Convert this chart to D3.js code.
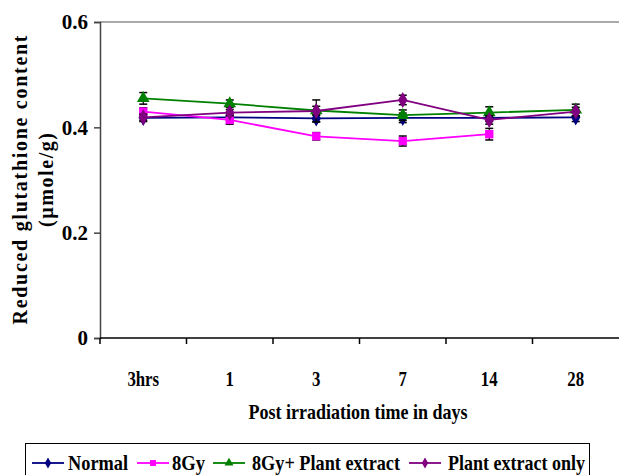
<!DOCTYPE html>
<html>
<head>
<meta charset="utf-8">
<script src="https://cdn.jsdelivr.net/npm/d3@7"></script>
<style>
  body { margin: 0; background: #fff; }
  svg { display: block; }
  text { font-family: "Liberation Serif", "Times New Roman", serif; font-weight: bold; fill: #000; }
</style>
</head>
<body>
<script>
const categories = ['3hrs', '1', '3', '7', '14', '28']
const yTicks = [0, 0.2, 0.4, 0.6]

const normal = [0.418, 0.419, 0.417, 0.418, 0.418, 0.419]
const normalErr = [0.007, 0.006, 0.006, 0.009, 0.007, 0.008]
const gy8 = [0.430, 0.414, 0.383, 0.374, 0.387, null]
const gy8Err = [0.007, 0.008, 0.007, 0.0095, 0.011, null]
const gy8Plant = [0.455, 0.445, 0.432, 0.423, 0.428, 0.433]
const gy8PlantErr = [0.011, 0.007, 0.008, 0.01, 0.011, 0.011]
const plantOnly = [0.419, 0.428, 0.431, 0.452, 0.414, 0.430]
const plantOnlyErr = [0.006, 0.006, 0.021, 0.009, 0.008, 0.008]

const series = [
  {name: 'Normal', values: normal, err: normalErr, color: '#000080', shape: 'diamond'},
  {name: '8Gy', values: gy8, err: gy8Err, color: '#FF00FF', shape: 'square'},
  {name: '8Gy+ Plant extract', values: gy8Plant, err: gy8PlantErr, color: '#008000', shape: 'triangle'},
  {name: 'Plant extract only', values: plantOnly, err: plantOnlyErr, color: '#800080', shape: 'diamond'}
]

const width = 619, height = 475
const margin = {top: 22, right: 0, bottom: 137, left: 100}

const svg = d3.select('body').append('svg')
  .attr('width', width)
  .attr('height', height)

const x = d3.scaleBand()
  .domain(categories)
  .range([margin.left, width - margin.right])

const y = d3.scaleLinear()
  .domain([0, 0.6])
  .range([height - margin.bottom, margin.top])

// plot frame top
svg.append('line')
  .attr('x1', margin.left).attr('x2', width)
  .attr('y1', y(0.6)).attr('y2', y(0.6))
  .attr('stroke', '#aaa').attr('stroke-width', 2)

// y axis
const yAxis = svg.append('g')
  .attr('transform', `translate(${margin.left},0)`)
  .call(d3.axisLeft(y).tickValues(yTicks).tickSize(6).tickPadding(6)
    .tickFormat(d => d === 0 ? '0' : d3.format('.1f')(d)))
yAxis.select('.domain').attr('stroke', '#444').attr('stroke-width', 1.5)
yAxis.selectAll('.tick line').attr('stroke', '#444').attr('stroke-width', 1.5)
yAxis.selectAll('text').style('font-size', '21px').attr('fill', '#000')

// x axis
const xAxis = svg.append('g')
  .attr('transform', `translate(0,${y(0)})`)
xAxis.append('line')
  .attr('x1', margin.left).attr('x2', width)
  .attr('stroke', '#000').attr('stroke-width', 1.5)
xAxis.selectAll('.tk')
  .data(categories)
  .enter().append('line')
  .attr('class', 'tk')
  .attr('x1', d => x(d)).attr('x2', d => x(d))
  .attr('y1', 0).attr('y2', 6)
  .attr('stroke', '#000').attr('stroke-width', 1.5)
xAxis.selectAll('.lbl')
  .data(categories)
  .enter().append('text')
  .attr('class', 'lbl')
  .attr('x', d => x(d) + x.bandwidth() / 2)
  .attr('y', 48)
  .attr('text-anchor', 'middle')
  .style('font-size', '21px')
  .attr('transform', d => {
    const cx = x(d) + x.bandwidth() / 2
    return `translate(${cx},0) scale(0.8,1) translate(${-cx},0)`
  })
  .text(d => d)

// axis titles
svg.append('text')
  .attr('x', 358).attr('y', 419)
  .attr('text-anchor', 'middle')
  .style('font-size', '21px')
  .attr('textLength', 219).attr('lengthAdjust', 'spacingAndGlyphs')
  .text('Post irradiation time in days')

const yTitle = svg.append('g')
  .attr('transform', `translate(0,${(y(0) + y(0.6)) / 2}) rotate(-90)`)
yTitle.append('text')
  .attr('x', 0).attr('y', 27)
  .attr('text-anchor', 'middle')
  .style('font-size', '20px')
  .attr('textLength', 289).attr('lengthAdjust', 'spacing')
  .text('Reduced glutathione content')
yTitle.append('text')
  .attr('x', 0).attr('y', 53)
  .attr('text-anchor', 'middle')
  .style('font-size', '20px')
  .attr('textLength', 94).attr('lengthAdjust', 'spacing')
  .text('(µmole/g)')

const cx = (d, i) => x(categories[i]) + x.bandwidth() / 2

const symbolFor = shape => {
  if (shape === 'square') return d3.symbol().type(d3.symbolSquare).size(70)
  if (shape === 'triangle') return d3.symbol().type(d3.symbolTriangle).size(70)
  return d3.symbol().type(d3.symbolDiamond).size(75)
}

series.forEach(s => {
  const pts = s.values.map((v, i) => ({v, e: s.err[i], i})).filter(p => p.v !== null)
  const line = d3.line()
    .x(p => cx(null, p.i))
    .y(p => y(p.v))

  const g = svg.append('g')

  // error bars
  pts.forEach(p => {
    const px = cx(null, p.i)
    g.append('line')
      .attr('x1', px).attr('x2', px)
      .attr('y1', y(p.v - p.e)).attr('y2', y(p.v + p.e))
      .attr('stroke', '#000').attr('stroke-width', 1.2)
    ;[p.v - p.e, p.v + p.e].forEach(ev => {
      g.append('line')
        .attr('x1', px - 4).attr('x2', px + 4)
        .attr('y1', y(ev)).attr('y2', y(ev))
        .attr('stroke', '#000').attr('stroke-width', 1.5)
    })
  })

  g.append('path')
    .datum(pts)
    .attr('d', line)
    .attr('fill', 'none')
    .attr('stroke', s.color)
    .attr('stroke-width', 1.8)

  g.selectAll('.mk')
    .data(pts)
    .enter().append('path')
    .attr('class', 'mk')
    .attr('d', symbolFor(s.shape))
    .attr('transform', p => `translate(${cx(null, p.i)},${y(p.v)})`)
    .attr('fill', s.color)
})

// legend
const legend = svg.append('g')
legend.append('rect')
  .attr('x', 25.5).attr('y', 443.5)
  .attr('width', 564).attr('height', 40)
  .attr('fill', 'none').attr('stroke', '#000').attr('stroke-width', 1)

const legendItems = [
  {lx: 32, tx: 68, tw: 60},
  {lx: 137, tx: 172, tw: 33},
  {lx: 213, tx: 252, tw: 148},
  {lx: 409, tx: 448, tw: 137}
]

series.forEach((s, i) => {
  const it = legendItems[i]
  const ly = 463
  legend.append('line')
    .attr('x1', it.lx).attr('x2', it.lx + 32)
    .attr('y1', ly).attr('y2', ly)
    .attr('stroke', s.color).attr('stroke-width', 1.8)
  legend.append('path')
    .attr('d', d3.symbol().type(s.shape === 'square' ? d3.symbolSquare
      : s.shape === 'triangle' ? d3.symbolTriangle : d3.symbolDiamond).size(35))
    .attr('transform', `translate(${it.lx + 16},${ly})`)
    .attr('fill', s.color)
  legend.append('text')
    .attr('x', it.tx).attr('y', 470)
    .style('font-size', '22px')
    .attr('textLength', it.tw).attr('lengthAdjust', 'spacingAndGlyphs')
    .text(s.name)
})
</script>
</body>
</html>
